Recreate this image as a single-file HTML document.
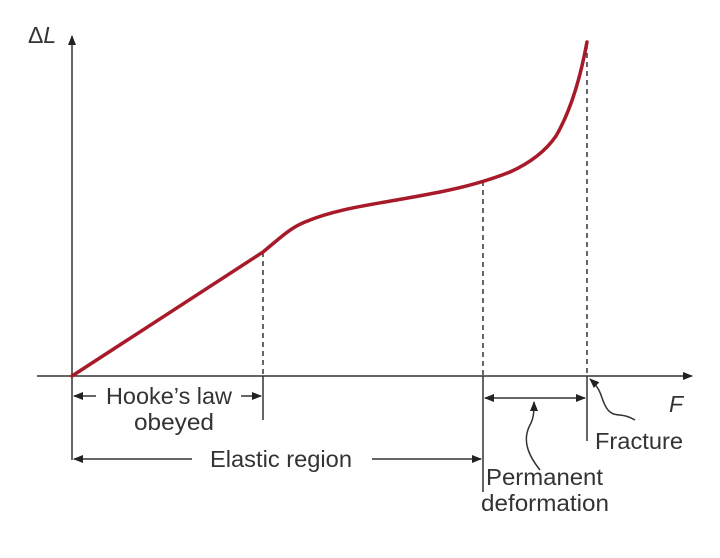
<!DOCTYPE html>
<html><head><meta charset="utf-8"><style>
body{margin:0;background:#fff;}
svg{display:block;font-family:"Liberation Sans",sans-serif;}
text{fill:#333;font-size:23px;}
</style></head><body>
<svg width="720" height="558">
<defs>
<marker id="ah" markerWidth="10" markerHeight="8" refX="9" refY="4" orient="auto" markerUnits="userSpaceOnUse"><path d="M0,0 L10,4 L0,8z" fill="#222"/></marker>
</defs>
<g stroke="#333" stroke-width="1.5" fill="none">
<line x1="72" y1="460" x2="72" y2="36" marker-end="url(#ah)"/>
<line x1="37" y1="376" x2="692" y2="376" marker-end="url(#ah)"/>
<line x1="263" y1="252" x2="263" y2="376" stroke-dasharray="5,4"/>
<line x1="483" y1="181" x2="483" y2="376" stroke-dasharray="5,4"/>
<line x1="587" y1="44" x2="587" y2="376" stroke-dasharray="5,4"/>
<line x1="263" y1="376" x2="263" y2="420"/>
<line x1="483" y1="376" x2="483" y2="492"/>
<line x1="587" y1="376" x2="587" y2="441"/>
<line x1="96" y1="396" x2="74" y2="396" marker-end="url(#ah)"/>
<line x1="241" y1="396" x2="261" y2="396" marker-end="url(#ah)"/>
<line x1="192" y1="459" x2="74" y2="459" marker-end="url(#ah)"/>
<line x1="372" y1="459" x2="481" y2="459" marker-end="url(#ah)"/>
<line x1="535" y1="398" x2="485" y2="398" marker-end="url(#ah)"/>
<line x1="535" y1="398" x2="585" y2="398" marker-end="url(#ah)"/>
<path d="M540,470 C528,455 522,440 530,425 C534,418 534,410 534,402" marker-end="url(#ah)"/>
<path d="M635,420 C622,412 615,418 608,410 C600,400 604,392 590,379" marker-end="url(#ah)"/>
</g>
<path fill="none" stroke="#a81a2a" stroke-width="3.5" stroke-linecap="round" d="M72,376 L263,252 C280,238 290,228 305,222 C340,207 380,204 440,192 C470,186 490,180 510,172 C530,163 545,152 556,136 C570,112 580,80 587,42"/>
<text x="28" y="43" font-size="20">Δ<tspan font-style="italic">L</tspan></text>
<text x="669" y="412" font-style="italic" font-size="24">F</text>
<text x="106" y="404" textLength="126" lengthAdjust="spacingAndGlyphs">Hooke’s law</text>
<text x="134" y="430" textLength="80" lengthAdjust="spacingAndGlyphs">obeyed</text>
<text x="210" y="467" textLength="142" lengthAdjust="spacingAndGlyphs">Elastic region</text>
<text x="486" y="485" textLength="117" lengthAdjust="spacingAndGlyphs">Permanent</text>
<text x="481" y="511" textLength="128" lengthAdjust="spacingAndGlyphs">deformation</text>
<text x="595" y="449" textLength="88" lengthAdjust="spacingAndGlyphs">Fracture</text>
</svg>
</body></html>
